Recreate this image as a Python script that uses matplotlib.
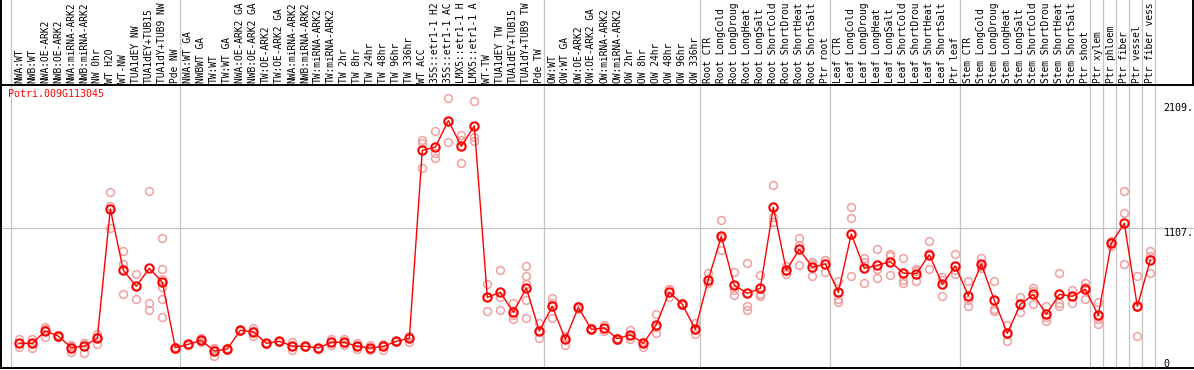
import matplotlib
matplotlib.use("Agg")
import matplotlib.pyplot as plt
import matplotlib.transforms as mtransforms

title = "Potri.009G113045"

samples = [
    "NWA:WT", "NWB:WT", "NWA:OE-ARK2", "NWB:OE-ARK2", "NWA:miRNA-ARK2", "NWB:miRNA-ARK2",
    "NW 0hr", "WT H2O", "WT-NW", "TUA1dEY NW", "TUA1dEY+TUB15", "TUA1dY+TUB9 NW", "Pde NW",
    "NWA:WT GA", "NWBWT GA", "TW:WT", "TW:WT GA", "NWA:OE-ARK2 GA", "NWB:OE-ARK2 GA",
    "TW:OE-ARK2", "TW:OE-ARK2 GA", "NWA:miRNA-ARK2", "NWB:miRNA-ARK2", "TW:miRNA-ARK2",
    "TW:miRNA-ARK2", "TW 2hr", "TW 8hr", "TW 24hr", "TW 48hr", "TW 96hr", "TW 336hr",
    "WT ACC", "35S::etr1-1 H2", "35S::etr1-1 AC", "LMX5::etr1-1 H", "LMX5::etr1-1 A",
    "WT-TW", "TUA1dEY TW", "TUA1dEY+TUB15", "TUA1dY+TUB9 TW", "Pde TW",
    "OW:WT", "OW:WT GA", "OW:OE-ARK2", "OW:OE-ARK2 GA", "OW:miRNA-ARK2", "OW:miRNA-ARK2",
    "OW 2hr", "OW 8hr", "OW 24hr", "OW 48hr", "OW 96hr", "OW 336hr",
    "Root CTR", "Root LongCold", "Root LongDroug", "Root LongHeat", "Root LongSalt",
    "Root ShortCold", "Root ShortDrou", "Root ShortHeat", "Root ShortSalt", "Ptr root",
    "Leaf CTR", "Leaf LongCold", "Leaf LongDroug", "Leaf LongHeat", "Leaf LongSalt",
    "Leaf ShortCold", "Leaf ShortDrou", "Leaf ShortHeat", "Leaf ShortSalt", "Ptr leaf",
    "Stem CTR", "Stem LongCold", "Stem LongDroug", "Stem LongHeat", "Stem LongSalt",
    "Stem ShortCold", "Stem ShortDrou", "Stem ShortHeat", "Stem ShortSalt", "Ptr shoot",
    "Ptr xylem", "Ptr phloem", "Ptr fiber", "Ptr vessel", "Ptr fiber vess",
]

group_sizes = [13, 28, 12, 10, 10, 10, 1, 1, 1, 1, 1]

means = [
    182, 182, 281, 240, 147, 160, 222, 1259, 767, 639, 783, 671, 147,
    174, 206, 120, 136, 286, 275, 182, 198, 160, 158, 144, 190, 190, 158, 144, 158, 198, 222,
    1729, 1753, 1967, 1761, 1924, 550, 591, 430, 625, 281,
    478, 214, 470, 294, 305, 219, 251, 182, 331, 593, 494, 294,
    692, 1039, 647, 582, 623, 1272, 767, 935, 791, 818,
    591, 1058, 783, 807, 836, 745, 740, 892, 655, 802,
    564, 818, 526, 262, 494, 574, 414, 574, 558, 615,
    406, 983, 1144, 478, 850,
]

replicates = [
    [150, 182, 214], [147, 185, 214], [235, 295, 313], [230, 240, 250], [115, 160, 166],
    [107, 186, 187], [176, 233, 257], [1106, 1279, 1392], [574, 818, 919], [540, 642, 735],
    [446, 502, 1400], [390, 534, 636, 697, 775, 1023], [140, 147, 154],
    [170, 174, 178], [190, 206, 222], [83, 135, 142], [130, 136, 142], [280, 286, 292],
    [240, 278, 307], [176, 182, 188], [193, 198, 203], [126, 164, 190], [152, 158, 164],
    [140, 144, 148], [166, 190, 214], [169, 182, 219], [134, 158, 182], [132, 134, 166],
    [126, 158, 176], [192, 198, 204], [195, 231, 240],
    [1590, 1790, 1812], [1670, 1705, 1881], [1793, 1962, 2146], [1625, 1809, 1849],
    [1806, 1838, 2122], [438, 557, 655], [446, 550, 767], [374, 408, 508],
    [382, 529, 655, 724, 799], [222, 279, 342],
    [387, 502, 542], [166, 233, 243], [460, 470, 480], [285, 294, 303], [283, 306, 326],
    [210, 219, 228], [214, 250, 289], [155, 195, 196], [262, 314, 417], [550, 614, 615],
    [485, 494, 503], [254, 286, 342],
    [663, 668, 745], [927, 1022, 1168], [572, 609, 751], [449, 481, 826], [564, 577, 727],
    [1157, 1197, 1448], [737, 760, 804], [807, 970, 1023], [724, 815, 834], [756, 848, 850],
    [516, 537, 679], [719, 1184, 1272], [663, 834, 868], [703, 780, 938], [727, 883, 898],
    [668, 689, 863], [679, 763, 778], [775, 902, 999], [561, 693, 711], [735, 773, 898],
    [478, 529, 679], [788, 803, 863], [442, 457, 679], [198, 259, 329], [430, 502, 550],
    [494, 605, 623], [363, 395, 484], [477, 502, 743], [502, 563, 609], [540, 637, 668],
    [334, 374, 510], [960, 983, 1005], [815, 1224, 1400], [238, 475, 721], [743, 885, 922],
]

scale_labels = [2109, 1107, 0]
grid_value = 1107

RED = "#ff0000"
PINK = "#f0a0a0"
GRID = "#c4c4c4"
MONO = "DejaVu Sans Mono"

W, H = 1194, 370
fig = plt.figure(figsize=(W / 100, H / 100), dpi=100)
fig.patch.set_facecolor("white")

top_px = 85
bot_px = 368
left_px = 1
xmin = -1.408
xmax = 90.36
ymin, ymax = -16, 2252

ax = fig.add_axes([left_px / W, (H - bot_px) / H, (W - left_px) / W, (bot_px - top_px) / H])
ax.set_xlim(xmin, xmax)
ax.set_ylim(ymin, ymax)
ax.set_xticks([])
ax.set_yticks([])
for s in ["top", "right"]:
    ax.spines[s].set_visible(False)
for s in ["left", "bottom"]:
    ax.spines[s].set_linewidth(1.4)
    ax.spines[s].set_color("black")

lab_right_px = 1192.5
ax_lab = fig.add_axes([left_px / W, (H - top_px) / H, (lab_right_px - left_px) / W, top_px / H])
ax_lab.set_xlim(xmin, xmin + (xmax - xmin) * (lab_right_px - left_px) / (W - left_px))
ax_lab.set_ylim(0, 1)
ax_lab.set_xticks([])
ax_lab.set_yticks([])
ax_lab.spines["top"].set_visible(False)
for s in ["left", "bottom", "right"]:
    ax_lab.spines[s].set_linewidth(1.4)
    ax_lab.spines[s].set_color("black")

# group separators
bounds = [-1]
for g in group_sizes:
    bounds.append(bounds[-1] + g)
for b in bounds:
    ax.axvline(b + 0.37, color=GRID, lw=0.9, zorder=0)
    ax_lab.axvline(b + 0.37, color=GRID, lw=0.9, zorder=0)

ax.axhline(grid_value, color=GRID, lw=0.9, zorder=0)

x = list(range(len(samples)))

# replicates
for i, reps in enumerate(replicates):
    ax.plot([i] * len(reps), reps, linestyle="none", marker="o", markersize=5.6,
            markerfacecolor="none", markeredgecolor=PINK, markeredgewidth=1.1, zorder=2)

# means
ax.plot(x, means, color=RED, lw=1.0, zorder=3)
ax.plot(x, means, linestyle="none", marker="o", markersize=6.0,
        markerfacecolor="none", markeredgecolor=RED, markeredgewidth=1.5, zorder=4)

# sample labels
trans = mtransforms.blended_transform_factory(ax_lab.transData, ax_lab.transAxes)
for i, lab in enumerate(samples):
    ax_lab.text(i, 0.02, lab, rotation=90, ha="center", va="bottom", family=MONO,
                fontsize=6.9, color="black", transform=trans, clip_on=False)

# title
ax.text(0.006, 0.985, title, transform=ax.transAxes, ha="left", va="top",
        family=MONO, fontsize=7.2, color=RED)

# value scale labels on the right
for v in scale_labels:
    yv = max(v, 58)
    ax.text(88.0, yv, f"{v}." if v else "0", ha="left", va="top", family=MONO,
            fontsize=7.2, color="black")

fig.savefig("out.png", dpi=100, facecolor="white")
